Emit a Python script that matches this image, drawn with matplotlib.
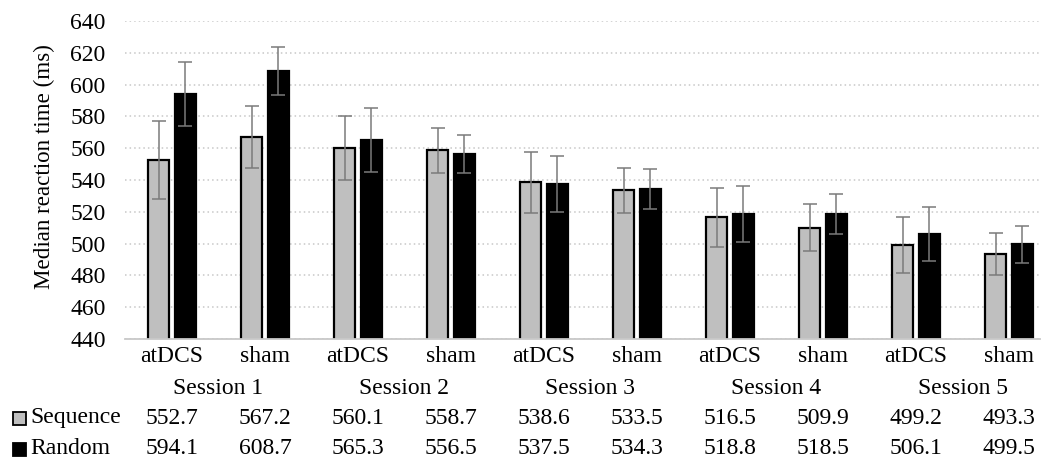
import matplotlib
matplotlib.use("Agg")
import matplotlib.pyplot as plt
import numpy as np
from matplotlib.transforms import blended_transform_factory

conditions = ["atDCS", "sham"] * 5
sessions = ["Session 1", "Session 2", "Session 3", "Session 4", "Session 5"]
sequence = [552.7, 567.2, 560.1, 558.7, 538.6, 533.5, 516.5, 509.9, 499.2, 493.3]
random_ = [594.1, 608.7, 565.3, 556.5, 537.5, 534.3, 518.8, 518.5, 506.1, 499.5]
seq_err = [24.5, 19.5, 20.0, 14.2, 19.3, 14.0, 18.7, 14.7, 17.8, 13.2]
rnd_err = [20.0, 15.0, 20.0, 12.0, 17.5, 12.7, 17.6, 12.6, 16.8, 11.6]
yticks = list(range(440, 641, 20))

plt.rcParams['font.family'] = ['Liberation Serif', 'DejaVu Serif']
FS = 17

W, H = 1050, 462
fig = plt.figure(figsize=(W / 100, H / 100), dpi=100)
ax = fig.add_axes([125 / W, 1 - 339 / H, (1040 - 125) / W, (339 - 21) / H])

x = np.arange(len(conditions))
off = 0.143
bw = 0.225
grey = "#bfbfbf"
ax.bar(x - off, sequence, bw, color=grey, edgecolor="black", linewidth=1.6, zorder=2)
ax.bar(x + off, random_, bw, color="black", edgecolor="black", linewidth=1.6, zorder=2)
ax.errorbar(x - off, sequence, yerr=seq_err, fmt="none", ecolor="#7a7a7a", elinewidth=1.1,
            capsize=5, capthick=1.1, zorder=3)
ax.errorbar(x + off, random_, yerr=rnd_err, fmt="none", ecolor="#7a7a7a", elinewidth=1.1,
            capsize=5, capthick=1.1, zorder=3)

ax.set_ylim(440, 640)
ax.set_xlim(-0.505, 9.333)
ax.set_yticks(yticks)
ax.set_yticklabels([str(t) for t in yticks], fontsize=FS)
ax.tick_params(axis="y", length=0, pad=14)
ax.set_xticks([])
ax.yaxis.grid(True, linestyle=(0, (1, 2)), color="#c8c8c8", linewidth=1.1, zorder=0)
ax.set_axisbelow(True)
for s in ["top", "right", "left"]:
    ax.spines[s].set_visible(False)
ax.spines["bottom"].set_color("#c8c8c8")
ax.spines["bottom"].set_linewidth(1.3)

fig.text(44 / W, 1 - 167 / H, "Median reaction time (ms)", rotation=90, ha="center", va="center",
         fontsize=16.6)

tr = blended_transform_factory(ax.transData, fig.transFigure)
for i, c in enumerate(conditions):
    ax.text(i, 1 - 357 / H, c, transform=tr, ha="center", va="center", fontsize=FS)
    ax.text(i, 1 - 418 / H, f"{sequence[i]:.1f}", transform=tr, ha="center", va="center", fontsize=FS)
    ax.text(i, 1 - 449 / H, f"{random_[i]:.1f}", transform=tr, ha="center", va="center", fontsize=FS)
for j, s in enumerate(sessions):
    ax.text(2 * j + 0.5, 1 - 388 / H, s, transform=tr, ha="center", va="center", fontsize=FS)

# legend keys of the data table
fig.patches.append(plt.Rectangle((13 / W, 1 - 425 / H), 13 / W, 13 / H, transform=fig.transFigure,
                                 facecolor=grey, edgecolor="black", linewidth=1.3))
fig.patches.append(plt.Rectangle((13 / W, 1 - 456 / H), 13 / W, 13 / H, transform=fig.transFigure,
                                 facecolor="black", edgecolor="black", linewidth=1.3))
fig.text(30 / W, 1 - 418 / H, "Sequence", ha="left", va="center", fontsize=FS)
fig.text(30 / W, 1 - 449 / H, "Random", ha="left", va="center", fontsize=FS)

fig.savefig("out.png", dpi=100)
